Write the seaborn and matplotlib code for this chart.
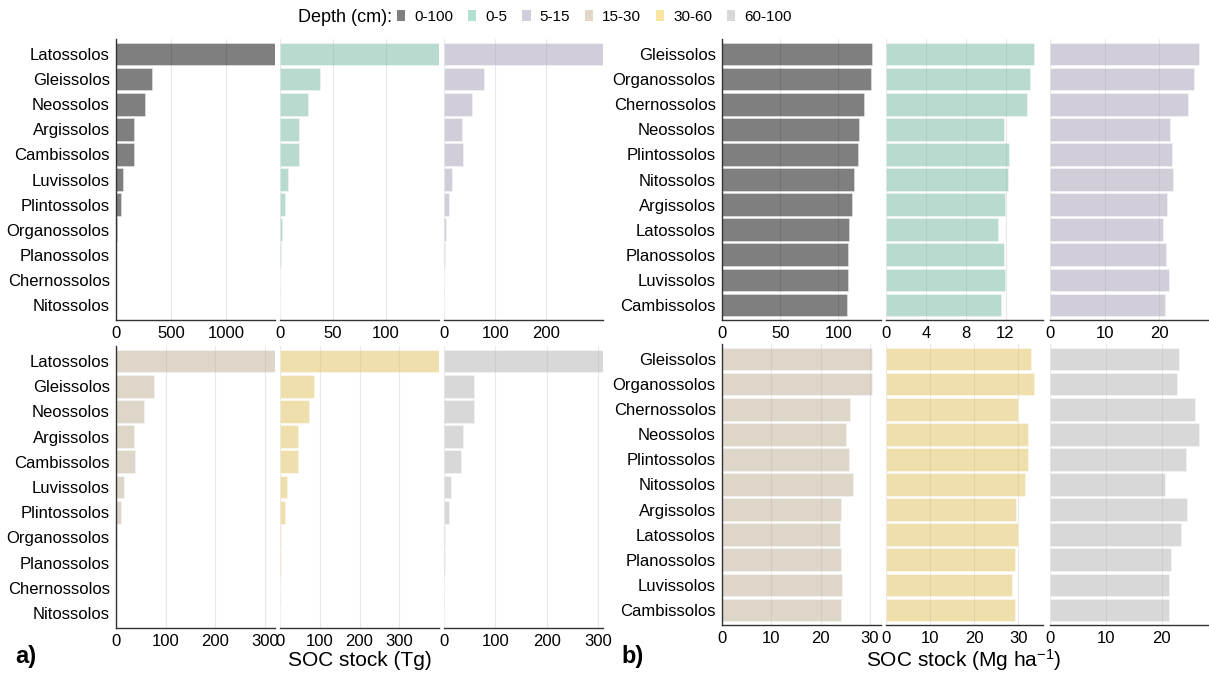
import numpy as np
import pandas as pd
import matplotlib
matplotlib.use("Agg")
import matplotlib.pyplot as plt
from matplotlib.patches import Patch
import seaborn as sns

# ---------------- data ----------------
depths = ["0-100", "0-5", "5-15", "15-30", "30-60", "60-100"]
depth_colors = ["#000000", "#66c2a5", "#a69bb8", "#c6b18e", "#f4cd47", "#b3b3b3"]

soils_tg = ["Latossolos", "Gleissolos", "Neossolos", "Argissolos", "Cambissolos",
            "Luvissolos", "Plintossolos", "Organossolos", "Planossolos",
            "Chernossolos", "Nitossolos"]
tg_0_100 = [1445, 325, 261, 164, 164, 66, 43, 5, 3, 0, 0]
tg_0_5 = [150, 37.7, 26.7, 17.9, 17.9, 7.9, 4.7, 1.6, 1.3, 0, 0]
tg_5_15 = [311, 78, 55, 36, 37, 16.4, 9.2, 3, 2, 0, 0]
tg_15_30 = [320, 77, 56, 36, 38, 16, 9.5, 1.5, 1, 0, 0]
tg_30_60 = [400, 85, 72, 44.6, 45, 18.5, 12.6, 3, 2.5, 0, 0]
tg_60_100 = [309, 58, 59, 36.5, 33, 13, 9, 2, 1.5, 0, 0]

soils_mg = ["Gleissolos", "Organossolos", "Chernossolos", "Neossolos", "Plintossolos",
            "Nitossolos", "Argissolos", "Latossolos", "Planossolos", "Luvissolos",
            "Cambissolos"]
mg_0_100 = [128.8, 127.9, 121.6, 117.8, 116.6, 113.2, 111.4, 109.2, 108.3, 108.0, 107.7]
mg_0_5 = [14.87, 14.47, 14.17, 11.89, 12.33, 12.23, 11.96, 11.26, 11.86, 11.96, 11.59]
mg_5_15 = [27.34, 26.42, 25.26, 22.02, 22.32, 22.51, 21.47, 20.67, 21.28, 21.83, 21.16]
mg_15_30 = [30.45, 30.4, 26.08, 25.2, 25.7, 26.5, 24.2, 24.0, 24.1, 24.4, 24.2]
mg_30_60 = [33.0, 33.6, 30.0, 32.1, 32.1, 31.5, 29.5, 29.9, 29.25, 28.6, 29.25]
mg_60_100 = [23.1, 22.76, 25.98, 26.7, 24.37, 20.67, 24.55, 23.42, 21.68, 21.27, 21.3]

ticks_tg = [[0, 500, 1000], [0, 50, 100], [0, 100, 200],
            [0, 100, 200, 300], [0, 100, 200, 300], [0, 100, 200, 300]]
ticks_mg = [[0, 50, 100], [0, 4, 8, 12], [0, 10, 20],
            [0, 10, 20, 30], [0, 10, 20, 30], [0, 10, 20]]

tg_series = [tg_0_100, tg_0_5, tg_5_15, tg_15_30, tg_30_60, tg_60_100]
mg_series = [mg_0_100, mg_0_5, mg_5_15, mg_15_30, mg_30_60, mg_60_100]


def long_df(soils, series):
    rows = []
    for d, vals in zip(depths, series):
        for s, v in zip(soils, vals):
            rows.append({"soil": s, "depth": d, "value": v})
    return pd.DataFrame(rows)


df_tg = long_df(soils_tg, tg_series)
df_mg = long_df(soils_mg, mg_series)

# ---------------- style ----------------
sns.set_theme(style="white")
plt.rcParams["font.family"] = ["Liberation Sans", "DejaVu Sans"]
plt.rcParams["text.color"] = "black"
plt.rcParams["axes.labelcolor"] = "black"
plt.rcParams["xtick.color"] = "black"
plt.rcParams["ytick.color"] = "black"
plt.rcParams["mathtext.fontset"] = "custom"
plt.rcParams["mathtext.rm"] = "Liberation Sans"
plt.rcParams["mathtext.it"] = "Liberation Sans:italic"
plt.rcParams["mathtext.bf"] = "Liberation Sans:bold"

W, H = 1209, 677
fig = plt.figure(figsize=(W / 100, H / 100), dpi=100)
fig.patch.set_facecolor("white")

spine_c = "#333333"


def add_ax(x0, x1, ytop, ybot):
    return fig.add_axes([x0 / W, 1 - ybot / H, (x1 - x0) / W, (ybot - ytop) / H])


left_x = [(116, 275), (280, 439), (444, 603)]
right_x = [(722, 881), (886, 1043), (1050, 1208)]
rows_left = [(39, 320), (346, 628)]
rows_right = [(39, 320), (344, 625)]


def draw_half(df, soils, xs, rows, ticks, expand):
    for i, d in enumerate(depths):
        r, c = divmod(i, 3)
        ax = add_ax(xs[c][0], xs[c][1], rows[r][0], rows[r][1])
        sub = df[df["depth"] == d]
        sns.barplot(data=sub, x="value", y="soil", order=soils, orient="h",
                    color=depth_colors[i], alpha=0.5, width=0.9,
                    edgecolor="white", linewidth=0.5, errorbar=None, ax=ax)
        ax.set_xlim(0, sub["value"].max() * expand)
        ax.set_ylim(len(soils) - 0.4, -0.6)
        ax.set_xticks(ticks[i])
        ax.set_xticklabels([str(t) for t in ticks[i]], fontsize=12, color="black")
        ax.set_xlabel("")
        ax.set_ylabel("")
        ax.grid(axis="x", color="#e8e8e8", linewidth=0.8)
        ax.grid(axis="y", visible=False)
        ax.set_axisbelow(True)
        for sp in ["top", "right"]:
            ax.spines[sp].set_visible(False)
        ax.spines["bottom"].set_color(spine_c)
        ax.spines["bottom"].set_linewidth(1.0)
        ax.tick_params(axis="x", length=3, width=0.8, color=spine_c, pad=1.5)
        if c == 0:
            ax.spines["left"].set_color(spine_c)
            ax.spines["left"].set_linewidth(1.0)
            ax.tick_params(axis="y", length=3, width=0.8, color=spine_c, pad=1.5,
                           labelsize=12, labelcolor="black")
        else:
            ax.spines["left"].set_visible(False)
            ax.tick_params(axis="y", left=False, labelleft=False)


draw_half(df_tg, soils_tg, left_x, rows_left, ticks_tg, 1.0)
draw_half(df_mg, soils_mg, right_x, rows_right, ticks_mg, 1.06)

# axis titles
fig.text(359.5 / W, 1 - 660 / H, "SOC stock (Tg)", ha="center", va="center",
         fontsize=15, color="black")
fig.text(964 / W, 1 - 660 / H, "SOC stock (Mg ha$^{-1}$)", ha="center", va="center",
         fontsize=15, color="black")
fig.text(26 / W, 1 - 657 / H, "a)", ha="center", va="center", fontsize=17,
         fontweight="bold", color="black")
fig.text(633 / W, 1 - 657 / H, "b)", ha="center", va="center", fontsize=17,
         fontweight="bold", color="black")

# legend
fig.text(392 / W, 1 - 17 / H, "Depth (cm):", ha="right", va="center", fontsize=13,
         color="black")
handles = [Patch(facecolor=c, alpha=0.5, edgecolor="none") for c in depth_colors]
fig.legend(handles, depths, loc="center left", bbox_to_anchor=(397 / W, 1 - 17 / H),
           ncol=6, frameon=False, fontsize=11, handlelength=0.55, handleheight=0.75,
           handletextpad=0.6, columnspacing=0.95, borderaxespad=0, borderpad=0,
           labelcolor="black")

fig.savefig("out.png", dpi=100, facecolor="white")
